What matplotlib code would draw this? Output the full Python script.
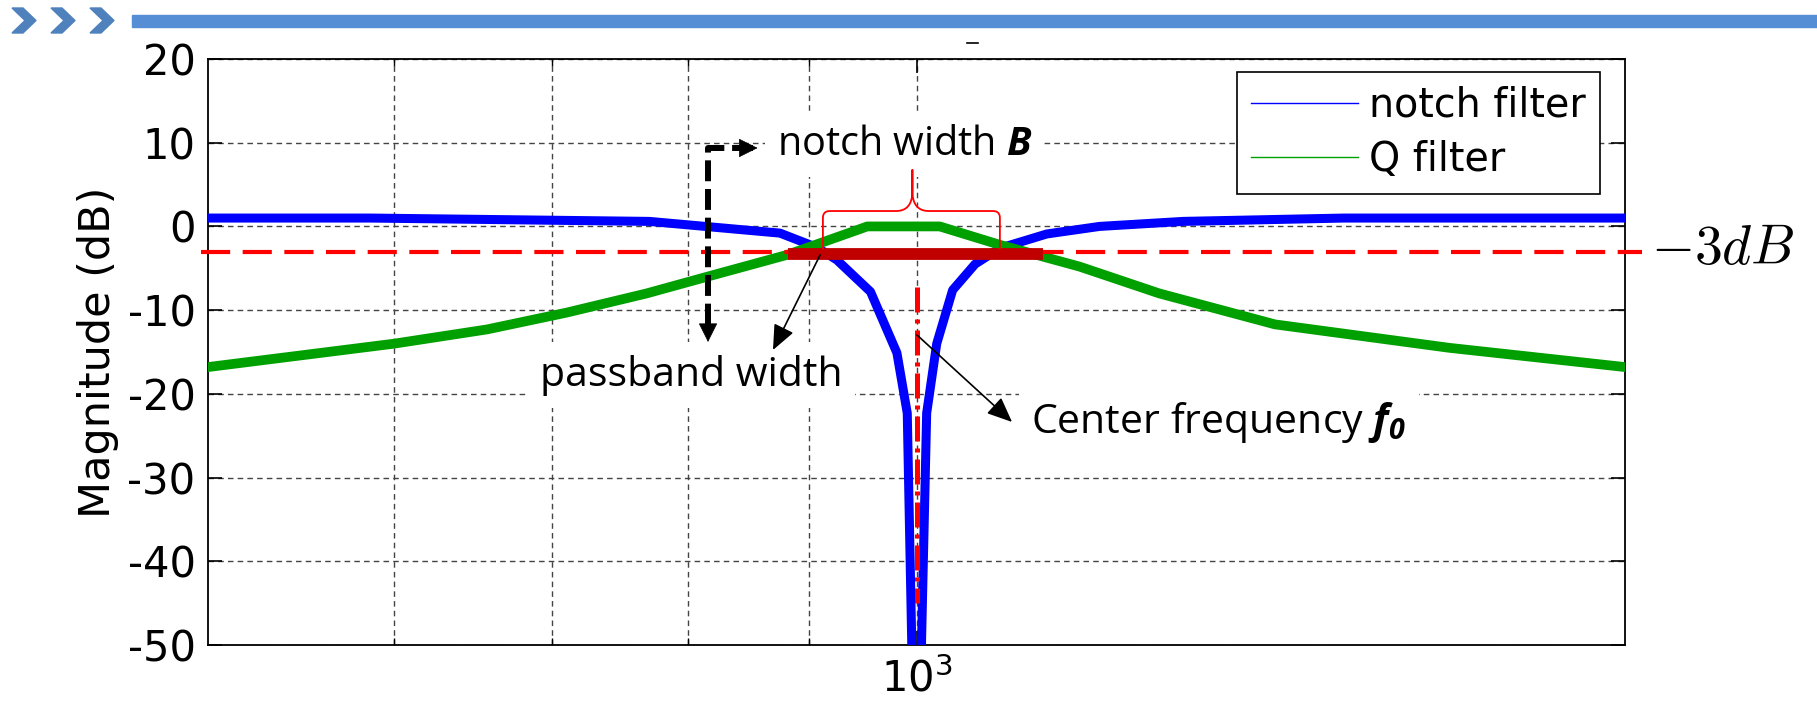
import matplotlib.pyplot as plt
import matplotlib.transforms as mtransforms
import numpy as np
from matplotlib.lines import Line2D
from matplotlib.patches import Polygon, Rectangle

plt.rcParams['font.family'] = 'DejaVu Sans'
plt.rcParams['axes.unicode_minus'] = False
plt.rcParams['mathtext.fontset'] = 'custom'
plt.rcParams['mathtext.rm'] = 'Open Sans'
plt.rcParams['mathtext.it'] = 'Open Sans:italic'
plt.rcParams['mathtext.bf'] = 'Open Sans:bold:italic'

# values (Hz, dB)
notch_freq = [500, 586, 770, 875, 907, 925, 956, 981, 991, 997,
              1003, 1010, 1020, 1036, 1059, 1085, 1136, 1196, 1298, 1519, 2000]
notch_db = [1.0, 1.0, 0.6, -0.8, -2.5, -4.0, -7.8, -15.1, -22.3, -60,
            -60, -22.3, -14.0, -7.6, -4.5, -2.6, -0.9, 0.0, 0.6, 1.0, 1.0]

q_freq = [500, 600, 657, 710, 768, 815, 881, 953, 1023, 1085, 1173, 1268, 1420, 1684, 2000]
q_db = [-16.8, -14.0, -12.3, -10.3, -8.0, -6.0, -3.4, 0.0, 0.0, -2.2, -4.8, -8.0, -11.7, -14.5, -16.8]

f0 = 1000
cutoff_db = -3
band_lo, band_hi, band_db = 882, 1132, -3.3

W, H = 1817, 708
fig = plt.figure(figsize=(W / 100, H / 100), dpi=100)


def fx(px):
    return px / W


def fy(py):
    return 1 - py / H


# slide header: chevrons and bar
fig.patches.append(Rectangle((fx(132), fy(27)), fx(W) - fx(132), 12 / H,
                             transform=fig.transFigure, color='#558ED5'))
for x0 in [12, 51, 90]:
    pts = [(x0, 8), (x0 + 11, 8), (x0 + 24, 20.5), (x0 + 11, 33), (x0, 33), (x0 + 13, 20.5)]
    fig.patches.append(Polygon([(fx(a), fy(b)) for a, b in pts], closed=True,
                               transform=fig.transFigure, color='#4F81BD'))
fig.add_artist(Line2D([fx(967), fx(978)], [fy(43), fy(43)], transform=fig.transFigure,
                      color='k', lw=1.2))

ax = fig.add_axes([208 / W, 63 / H, 1417 / W, 586 / H])
ax.semilogx(notch_freq, notch_db, color='#0000FF', lw=6.5, zorder=3)
ax.semilogx(q_freq, q_db, color='#00A000', lw=7, zorder=3)

ax.set_xlim(500, 2000)
ax.set_ylim(-50, 20)
ax.set_yticks(np.arange(-50, 21, 10))
ax.set_xticks([f0])
ax.set_xticklabels([r'$\mathregular{10^3}$'])
ax.set_xticks([600, 700, 800, 900], minor=True)
ax.set_xticklabels([], minor=True)
ax.tick_params(which='major', direction='in', length=10, width=1.2, labelsize=30,
               top=True, right=True, pad=9)
ax.tick_params(which='minor', direction='in', length=5, width=1, top=True)
ax.grid(which='both', color='#444444', lw=1, linestyle=(0, (4, 3)))
for s in ax.spines.values():
    s.set_linewidth(1.3)
ax.set_ylabel('Magnitude (dB)', fontsize=31)
ax.yaxis.set_label_coords(-0.063, 0.5)

# -3 dB reference line and label
trans = mtransforms.blended_transform_factory(ax.transAxes, ax.transData)
ax.plot([-0.005, 1.012], [cutoff_db, cutoff_db], transform=trans, color='#FF0000',
        lw=3, dashes=(7, 3), clip_on=False, zorder=4)
ax.text(1.018, cutoff_db + 0.3, r'$-3dB$', transform=trans, fontsize=40,
        math_fontfamily='cm', va='center', ha='left')

# passband bar and centre line
ax.plot([band_lo, band_hi], [band_db, band_db], color='#C00000', lw=8.5,
        solid_capstyle='butt', zorder=5)
ax.plot([f0, f0], [-7.2, -45], color='#FF0000', lw=3.6, dashes=(5, 1.4, 0.8, 1.4), zorder=4)


# curly brace over the notch width
def bez(p0, p1, p2, n=12):
    t = np.linspace(0, 1, n)[:, None]
    p0, p1, p2 = map(np.array, (p0, p1, p2))
    return (1 - t) ** 2 * p0 + 2 * (1 - t) * t * p1 + t ** 2 * p2


uL, uM, uR = np.log10(912.5), np.log10(996), np.log10(1085)
yb, ya, yt = -2.6, 1.84, 6.74
ru, ry = 0.003, 0.84
ru2, ry2 = 0.007, 2.4
seg = [
    np.array([[uL, yb]]),
    bez((uL, ya - ry), (uL, ya), (uL + ru, ya)),
    bez((uM - ru2, ya), (uM, ya), (uM, ya + ry2)),
    np.array([[uM, yt]]),
    bez((uM, ya + ry2), (uM, ya), (uM + ru2, ya)),
    bez((uR - ru, ya), (uR, ya), (uR, ya - ry)),
    np.array([[uR, yb]]),
]
brace = np.vstack(seg)
ax.plot(10 ** brace[:, 0], brace[:, 1], color='#FF0000', lw=1.3, zorder=6)

# black dashed L-arrow
ax.plot([852, 815.5, 815.5], [9.37, 9.37, -11.6], color='k', lw=4.3,
        dashes=(3.5, 1.3), solid_joinstyle='miter', zorder=6)
head = dict(arrowstyle='-|>,head_length=1.0,head_width=0.5', color='k', lw=0.5,
            shrinkA=0, shrinkB=0, mutation_scale=12.5)
ax.annotate('', xy=(815.5, -13.8), xytext=(815.5, -11.5), arrowprops=head, zorder=7)
ax.annotate('', xy=(856, 9.37), xytext=(848, 9.37), arrowprops=head, zorder=7)

# thin pointer arrows
thin = dict(arrowstyle='-|>,head_length=0.7,head_width=0.3', color='k', lw=1.2,
            shrinkA=0, shrinkB=0, mutation_scale=22)
ax.annotate('', xy=(869, -14.76), xytext=(910, -3.41), arrowprops=thin, zorder=7)
ax.annotate('', xy=(1098, -23.36), xytext=(1000.5, -12.97), arrowprops=thin, zorder=7)

box = dict(fc='white', ec='none', boxstyle='square,pad=0.3')
ax.text(872, 9.7, r'notch width $\mathbf{B}$', family='Open Sans', fontsize=28.5,
        va='center', ha='left', bbox=box, zorder=5)
ax.text(692, -17.75, 'passband width', family='Open Sans', fontsize=29.5,
        va='center', ha='left', bbox=box, zorder=5)
ax.text(1119, -23.48, r'Center frequency $\mathbf{f_0}$', family='Open Sans', fontsize=29.5,
        va='center', ha='left', bbox=box, zorder=5)

handles = [Line2D([], [], color='#0000FF', lw=1), Line2D([], [], color='#00A000', lw=1)]
leg = ax.legend(handles, ['notch filter', 'Q filter'], loc='upper right',
                bbox_to_anchor=(fx(1600), fy(72)), bbox_transform=fig.transFigure,
                fontsize=28.5, handlelength=2.7, handletextpad=0.3, borderpad=0.35,
                labelspacing=0.35, fancybox=False, edgecolor='k', framealpha=1,
                borderaxespad=0)
leg.get_frame().set_linewidth(1.2)
leg.set_zorder(8)

fig.savefig('out.png', dpi=100)
